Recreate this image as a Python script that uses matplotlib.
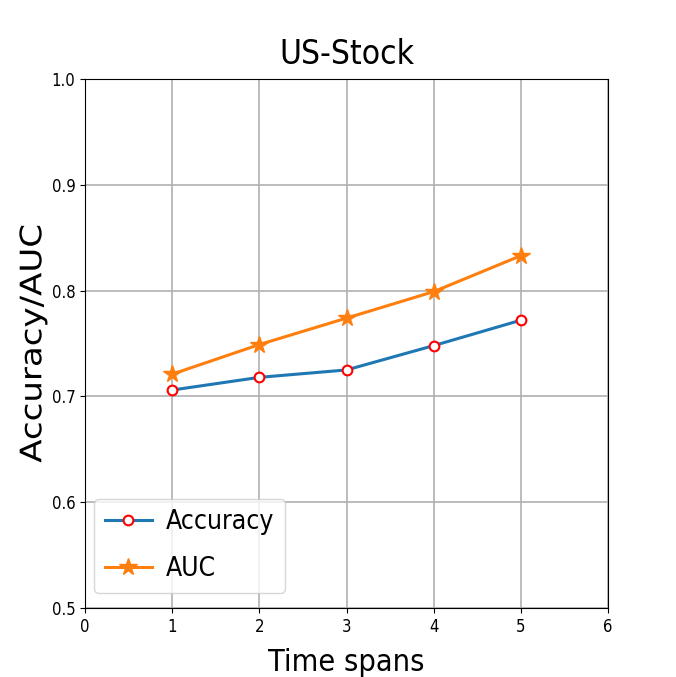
import matplotlib
matplotlib.use("Agg")
import matplotlib.pyplot as plt
from matplotlib.patheffects import AbstractPathEffect
from matplotlib.transforms import Affine2D

spans = [1, 2, 3, 4, 5]
accuracy = [0.706, 0.718, 0.725, 0.748, 0.772]
auc = [0.721, 0.749, 0.774, 0.799, 0.833]
xticks = [0, 1, 2, 3, 4, 5, 6]
yticks = [0.5, 0.6, 0.7, 0.8, 0.9, 1.0]

plt.rcParams['font.family'] = ['DejaVu Sans']
plt.rcParams['font.stretch'] = 'condensed'


class XSqueeze(AbstractPathEffect):
    """Compress drawn text horizontally (about its right edge)."""
    def __init__(self, sx):
        super().__init__()
        self.sx = sx

    def draw_path(self, renderer, gc, tpath, affine, rgbFace=None):
        ext = tpath.get_extents(affine)
        x1 = ext.x1
        t = affine + Affine2D().translate(-x1, 0).scale(self.sx, 1).translate(x1, 0)
        renderer.draw_path(gc, tpath, t, rgbFace)


fig = plt.figure(figsize=(6.76, 6.77), dpi=100)
ax = fig.add_axes([85/676, 1-608/677, (608-85)/676, (608-79)/677])

ax.plot(spans, accuracy, color='#1f77b4', lw=2.2, marker='o', markersize=7,
        markerfacecolor='white', markeredgecolor='red', markeredgewidth=1.5, label='Accuracy')
ax.plot(spans, auc, color='#ff7f0e', lw=2.2, marker='*', markersize=13, label='AUC')

ax.set_xlim(0, 6)
ax.set_ylim(0.5, 1.0)
ax.set_xticks(xticks)
ax.set_yticks(yticks)
ax.tick_params(labelsize=12)
ax.grid(True, color='#b0b0b0', lw=1.2)
ax.set_title('US-Stock', fontsize=24, pad=11)
ax.set_xlabel('Time spans', fontsize=22, labelpad=9)
yl = ax.set_ylabel('Accuracy/AUC', fontsize=24.5, fontstretch='normal', labelpad=3)
yl.set_path_effects([XSqueeze(0.87)])
ax.legend(loc='lower left', bbox_to_anchor=(9/523, 15/529), borderaxespad=0,
          fontsize=19, handlelength=1.78, handletextpad=0.55, labelspacing=0.8,
          borderpad=0.4)

fig.savefig('out.png', dpi=100)
